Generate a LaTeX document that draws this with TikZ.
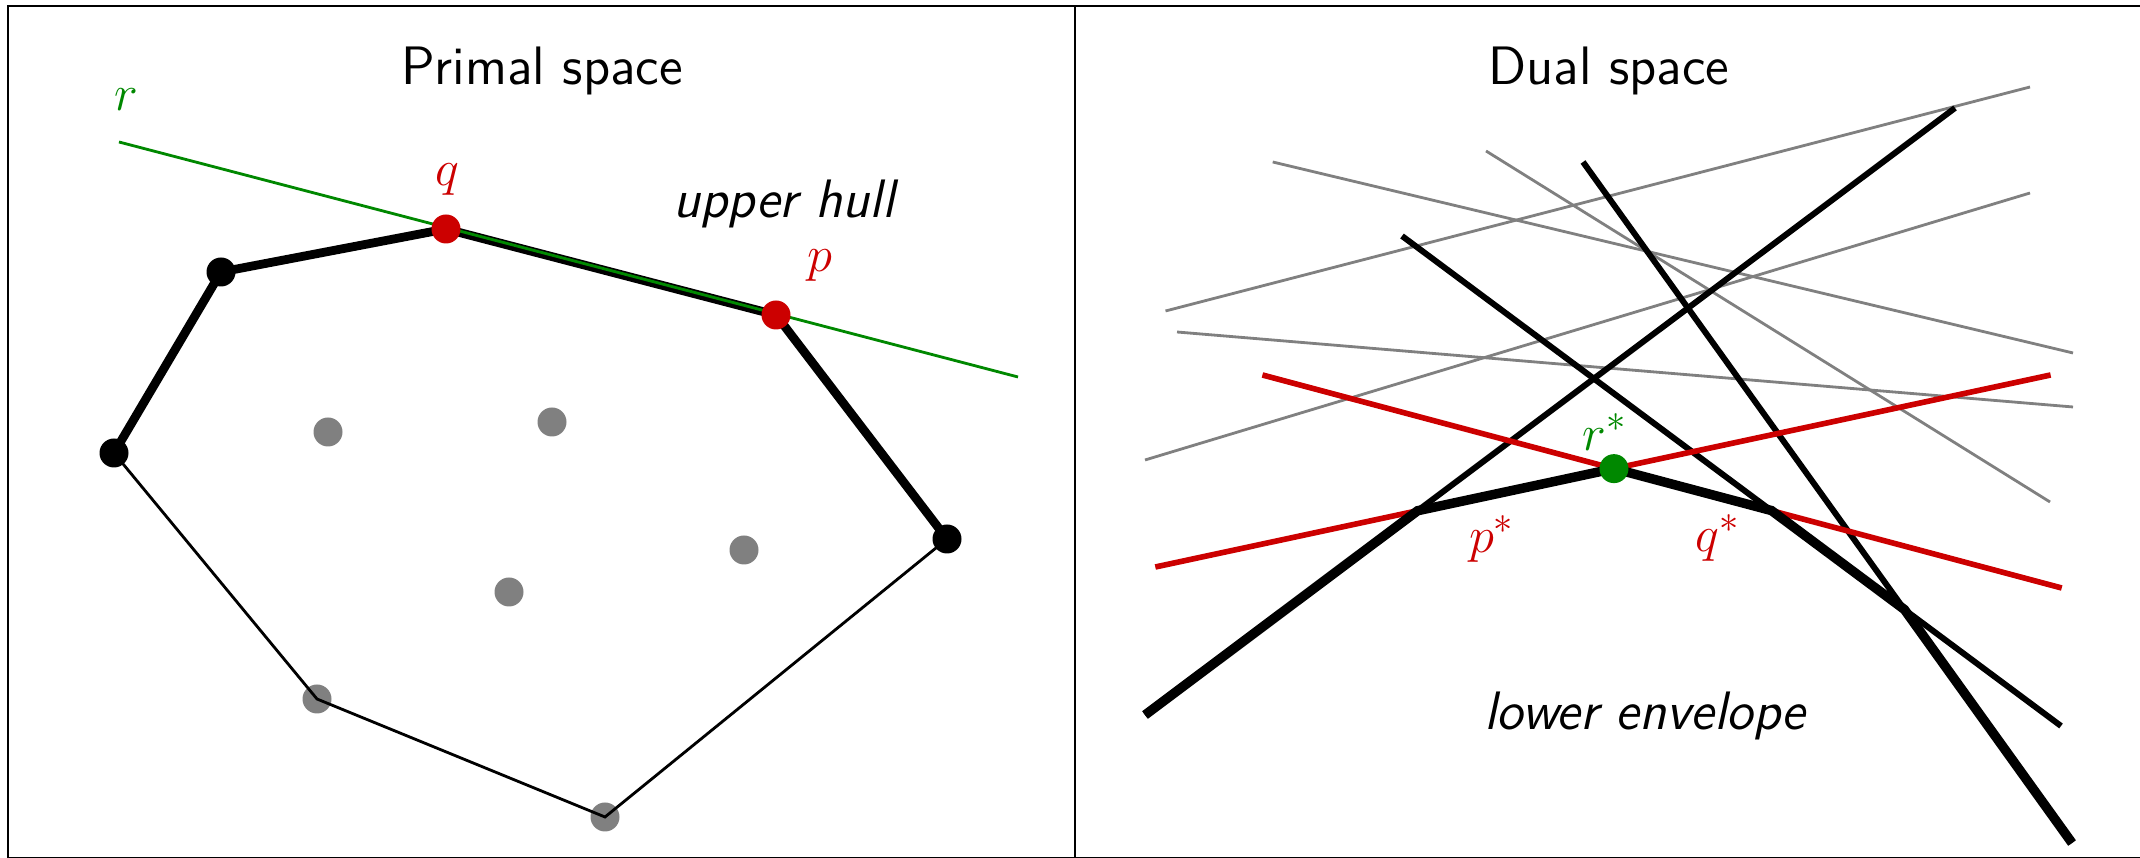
\documentclass[tikz,border=0pt]{standalone}
\usepackage{xcolor}
\usepackage{tikz}
\usetikzlibrary{positioning,calc}

\definecolor{dualred}{RGB}{204,0,0}
\definecolor{dualgreen}{RGB}{0,136,0}
\newcommand{\bigfont}{\fontsize{15.4}{18}\selectfont}

\begin{document}
\begin{tikzpicture}[
  frame/.style={draw, line width=0.7pt},
  title/.style={font=\bigfont\sffamily, anchor=base},
  note/.style={font=\bigfont\sffamily\itshape, anchor=base},
  lbl/.style={font=\bigfont},
  pt/.style={circle, inner sep=0pt, minimum size=2.9mm},
  blackpt/.style={pt, fill=black},
  graypt/.style={pt, fill=gray},
  redpt/.style={pt, fill=dualred},
  greenpt/.style={pt, fill=dualgreen},
  hull/.style={draw, line width=0.8pt},
  upper/.style={draw, line width=2.5pt},
  rline/.style={draw, dualgreen, line width=0.8pt},
  grayln/.style={draw, gray, line width=0.8pt},
  blackln/.style={draw, line width=1.7pt},
  redln/.style={draw, dualred, line width=1.6pt},
  envln/.style={draw, line width=2.7pt}
]
\path[use as bounding box, clip] (0,0) rectangle (21.4,8.58);

% Frame
\draw[frame] (0.08,0) rectangle (21.7,8.52);
\draw[frame] (10.75,0) -- (10.75,8.52);
\node[title] (tprimal) at (5.42,7.73) {Primal space};
\node[title] (tdual) at (16.09,7.73) {Dual space};

% Primal space: point set
\coordinate (h1) at (2.21,5.86);
\coordinate (h2) at (1.14,4.05);
\coordinate (h3) at (9.47,3.19);
\coordinate (q) at (4.46,6.29);
\coordinate (p) at (7.76,5.43);
\node[graypt] (g1) at (3.28,4.26) {};
\node[graypt] (g2) at (5.52,4.36) {};
\node[graypt] (g3) at (7.44,3.08) {};
\node[graypt] (g4) at (5.09,2.66) {};
\node[graypt] (g5) at (3.17,1.59) {};
\node[graypt] (g6) at (6.05,0.41) {};

% Hull
\draw[hull] (h2) -- (g5.center) -- (g6.center) -- (h3);
\draw[upper] (h2) -- (h1) -- (q) -- (p) -- (h3);

% Line r through q and p
\coordinate (r1) at (1.19,7.16);
\coordinate (r2) at (10.18,4.81);
\draw[rline] (r1) -- (r2);
\node[lbl, dualgreen] (rlbl) at (1.26,7.58) {$r$};

\node[blackpt] (H1) at (h1) {};
\node[blackpt] (H2) at (h2) {};
\node[blackpt] (H3) at (h3) {};
\node[redpt] (Q) at (q) {};
\node[redpt] (P) at (p) {};
\node[lbl, dualred] (qlbl) at (4.47,6.78) {$q$};
\node[lbl, dualred] (plbl) at (8.20,5.92) {$p$};
\node[note] (uh) at (7.84,6.40) {upper hull};

% Dual space: lines
\coordinate (a1) at (11.655,5.47);  \coordinate (a2) at (20.30,7.71);
\coordinate (b1) at (12.727,6.96);  \coordinate (b2) at (20.73,5.05);
\coordinate (c1) at (14.86,7.07);   \coordinate (c2) at (20.50,3.56);
\coordinate (d1) at (11.77,5.26);   \coordinate (d2) at (20.73,4.51);
\coordinate (e1) at (11.45,3.98);   \coordinate (e2) at (20.30,6.65);
\coordinate (k1) at (19.55,7.50);   \coordinate (k2) at (11.45,1.43);
\coordinate (l1) at (14.02,6.22);   \coordinate (l2) at (20.61,1.32);
\coordinate (m1) at (15.83,6.96);   \coordinate (m2) at (20.72,0.15);
\coordinate (ps1) at (11.553,2.91); \coordinate (ps2) at (20.506,4.83);
\coordinate (qs1) at (12.624,4.83); \coordinate (qs2) at (20.617,2.70);

\foreach \a/\b in {a1/a2, b1/b2, c1/c2, d1/d2, e1/e2}
  \draw[grayln] (\a) -- (\b);
\foreach \a/\b in {k1/k2, l1/l2, m1/m2}
  \draw[blackln] (\a) -- (\b);
\draw[redln] (ps1) -- (ps2);
\draw[redln] (qs1) -- (qs2);

% Lower envelope
\coordinate (v1) at (intersection of k1--k2 and ps1--ps2);
\coordinate (rs) at (intersection of ps1--ps2 and qs1--qs2);
\coordinate (v2) at (intersection of qs1--qs2 and l1--l2);
\coordinate (v3) at (intersection of l1--l2 and m1--m2);
\draw[envln] (k2) -- (v1) -- (rs) -- (v2) -- (v3) -- (m2);

\node[greenpt] (RS) at (rs) {};
\node[lbl, dualgreen] (rslbl) at (16.05,4.26) {$r^*$};
\node[lbl, dualred] (pslbl) at (14.92,3.19) {$p^*$};
\node[lbl, dualred] (qslbl) at (17.18,3.20) {$q^*$};
\node[note] (le) at (16.45,1.28) {lower envelope};
\end{tikzpicture}
\end{document}
